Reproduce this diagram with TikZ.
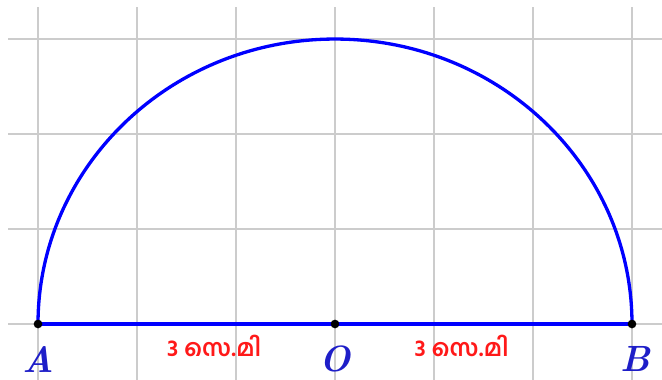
\documentclass[tikz,border=0pt]{standalone}
\usepackage{fontspec}
\usepackage{tikz}
\newfontfamily\mlfont[Script=Malayalam]{Hind Kochi}
\definecolor{ptblue}{RGB}{30,30,200}
\definecolor{lenred}{RGB}{255,25,25}

\begin{document}
\begin{tikzpicture}[x=2cm,y=1.919cm,
    gridline/.style={line width=0.85pt,gray!40},
    halfcircle/.style={line width=1.9pt,blue},
    ptlabel/.style={font=\fontsize{21}{24}\selectfont\bfseries\itshape,text=ptblue},
    lenlabel/.style={font=\mlfont\fontsize{13.5}{15}\selectfont\bfseries,text=lenred}]
    % Semicircle on the diameter AB

    \useasboundingbox (-3.384,-0.589) rectangle (3.303,3.411);

    % Grid
    \foreach \x in {-3,...,3}
        \draw[gridline] (\x,-0.589) -- (\x,3.337);
    \foreach \y in {0,...,3}
        \draw[gridline] (-3.303,\y) -- (3.303,\y);

    % Points on the diameter
    \coordinate (A) at (-3,0);
    \coordinate (O) at (0,0);
    \coordinate (B) at (3,0);

    % Arc and diameter
    \draw[halfcircle] (B) arc[start angle=0,end angle=180,radius=3];
    \draw[halfcircle] (A) -- (B);

    % Vertex dots
    \fill (A) circle (2.5pt);
    \fill (O) circle (2.5pt);
    \fill (B) circle (2.5pt);

    % Labels
    \node[ptlabel] (labA) at (-3,-0.37) {A};
    \node[ptlabel] (labO) at (0,-0.37) {O};
    \node[ptlabel] (labB) at (3.03,-0.37) {B};
    \node[lenlabel] (lenAO) at (-1.22,-0.23) {3 സെ.മി};
    \node[lenlabel] (lenOB) at (1.28,-0.23) {3 സെ.മി};
\end{tikzpicture}
\end{document}
